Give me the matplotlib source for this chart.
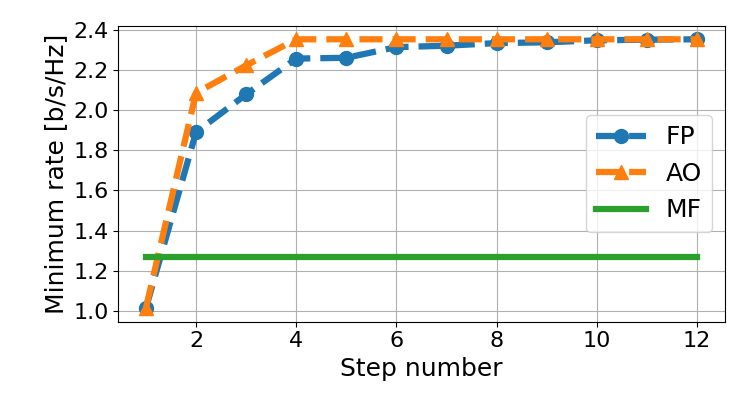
import matplotlib
matplotlib.use("Agg")
import matplotlib.pyplot as plt

steps = [1, 2, 3, 4, 5, 6, 7, 8, 9, 10, 11, 12]
fp = [1.015, 1.89, 2.078, 2.256, 2.26, 2.313, 2.32, 2.333, 2.337, 2.347, 2.35, 2.352]
ao = [1.016, 2.085, 2.222, 2.352, 2.352, 2.352, 2.352, 2.352, 2.352, 2.352, 2.352, 2.352]
mf = [1.27] * len(steps)

fig = plt.figure(figsize=(7.47, 4.15), dpi=100)
ax = fig.add_axes([0.1585, 0.2248, 0.8115, 0.7125])

ax.plot(steps, fp, '--o', color='tab:blue', lw=4.5, ms=10, label='FP')
ax.plot(steps, ao, '--^', color='tab:orange', lw=4.5, ms=10, label='AO')
ax.plot(steps, mf, '-', color='tab:green', lw=4.5, label='MF')

ax.set_ylim(0.947, 2.418)
ax.set_xticks([2, 4, 6, 8, 10, 12])
ax.set_yticks([1.0, 1.2, 1.4, 1.6, 1.8, 2.0, 2.2, 2.4])
ax.tick_params(labelsize=16)
ax.set_xlabel('Step number', fontsize=18)
ax.set_ylabel('Minimum rate [b/s/Hz]', fontsize=18)
ax.grid(True)
ax.legend(loc='center right', fontsize=18)

fig.savefig('out.png', dpi=100)
